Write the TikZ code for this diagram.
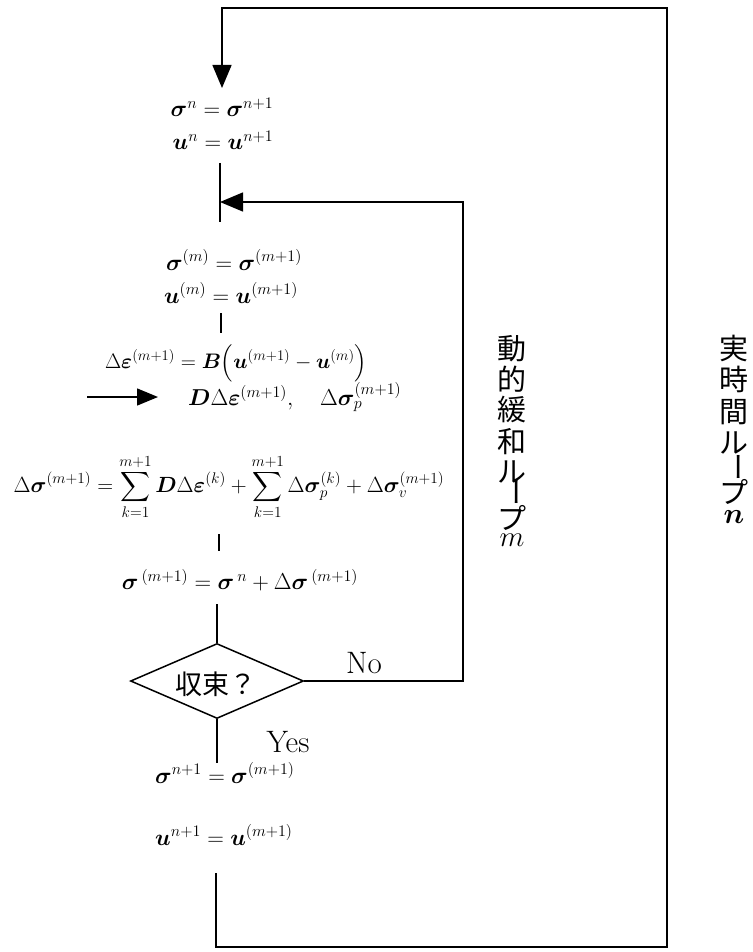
\RequirePackage{fix-cm}
\documentclass[tikz,border=0pt]{standalone}
\usepackage{fontspec}
\usepackage{amsmath,bm}
\newfontfamily\jp{Noto Sans CJK JP}
\usetikzlibrary{arrows.meta,shapes.geometric}
\newcommand{\supgap}{\hspace{3pt}}
\tikzset{
  eq/.style={inner sep=0pt, font=\fontsize{23}{27}\selectfont},
  lbl/.style={inner sep=0pt, font=\fontsize{31}{35}\selectfont},
  vchar/.style={inner sep=0pt, font=\jp\fontsize{29}{31}\selectfont},
  vmath/.style={inner sep=0pt, font=\fontsize{29}{31}\selectfont},
  flow/.style={line width=1.5pt},
  bigtip/.style={-{Triangle[length=23pt,width=19pt]}},
  dec/.style={diamond, draw, line width=1.5pt, minimum width=173pt, minimum height=75pt, aspect=2.3, inner sep=0pt}
}
\begin{document}
\begin{tikzpicture}[x=1pt,y=-1pt]
\useasboundingbox[fill=white] (0,0) rectangle (752,952);

% equations
\node[eq] (n1) at (222,107) {$\bm{\sigma}^{n}=\bm{\sigma}^{n+1}$};
\node[eq] (n2) at (223,140) {$\bm{u}^{n}=\bm{u}^{n+1}$};
\node[eq] (m1) at (234,260) {$\bm{\sigma}^{(m)}=\bm{\sigma}^{(m+1)}$};
\node[eq] (m2) at (231,293) {$\bm{u}^{(m)}=\bm{u}^{(m+1)}$};
\node[eq, font=\fontsize{21}{25}\selectfont] (de) at (236,363) {$\Delta\bm{\varepsilon}^{(m+1)}=\bm{B}\Bigl(\bm{u}^{(m+1)}-\bm{u}^{(m)}\Bigr)$};
\node[eq, anchor=west] (dd) at (188,397) {$\bm{D}\Delta\bm{\varepsilon}^{(m+1)},\quad \Delta\bm{\sigma}_{p}^{(m+1)}$};
\node[eq, font=\fontsize{22}{26}\selectfont] (ds) at (229,487) {$\displaystyle \Delta\bm{\sigma}^{(m+1)}=\sum_{k=1}^{m+1}\bm{D}\Delta\bm{\varepsilon}^{(k)}+\sum_{k=1}^{m+1}\Delta\bm{\sigma}_{p}^{(k)}+\Delta\bm{\sigma}_{v}^{(m+1)}$};
\node[eq] (sn) at (240,580) {$\bm{\sigma}^{\supgap(m+1)}=\bm{\sigma}^{\supgap n}+\Delta\bm{\sigma}^{\supgap(m+1)}$};
\node[dec] (q) at (217,681) {};
\node[inner sep=0pt, font=\jp\fontsize{27}{30}\selectfont] (qt) at (216,684) {収束？};
\node[lbl] (no) at (364,663) {No};
\node[lbl] (yes) at (288,742) {Yes};
\node[eq, anchor=west] (f1) at (155,773) {$\bm{\sigma}^{n+1}=\bm{\sigma}^{(m+1)}$};
\node[eq, anchor=west] (f2) at (155,835) {$\bm{u}^{n+1}=\bm{u}^{(m+1)}$};

% loop label m
\node[vchar] (lm1) at (512,349) {動};
\node[vchar] (lm2) at (512,379) {的};
\node[vchar] (lm3) at (512,410) {緩};
\node[vchar] (lm4) at (512,442) {和};
\node[vchar] (lm5) at (512,472) {ル};
\node[vchar] (lm6) at (512,492) {\rotatebox[origin=c]{-90}{ー}};
\node[vchar] (lm7) at (512,518) {プ};
\node[vmath] (lm8) at (512,540) {$m$};
% loop label n
\node[vchar] (ln1) at (734,349) {実};
\node[vchar] (ln2) at (734,379) {時};
\node[vchar] (ln3) at (734,412) {間};
\node[vchar] (ln4) at (734,443) {ル};
\node[vchar] (ln5) at (734,467) {\rotatebox[origin=c]{-90}{ー}};
\node[vchar] (ln6) at (734,492) {プ};
\node[vmath] (ln7) at (734,517) {$\bm{n}$};

% coordinates
\coordinate (t1) at (222,8);
\coordinate (t2) at (667,8);
\coordinate (t3) at (667,947);
\coordinate (t4) at (216,947);
\coordinate (t5) at (216,873);
\coordinate (tip1) at (222,88);
\coordinate (a1) at (220,163);
\coordinate (a2) at (220,222);
\coordinate (tip2) at (220,202);
\coordinate (r1) at (463,202);
\coordinate (r2) at (463,681);
\coordinate (k1) at (221,313);
\coordinate (k2) at (221,333);
\coordinate (ar1) at (87,397);
\coordinate (ar2) at (158,397);
\coordinate (k3) at (219,534);
\coordinate (k4) at (219,551);
\coordinate (k5) at (217,604);
\coordinate (k6) at (217,763);

% connectors
\draw[flow, bigtip] (t5) -- (t4) -- (t3) -- (t2) -- (t1) -- (tip1);
\draw[flow] (a1) -- (a2);
\draw[flow, bigtip] (q.east) -- (r2) -- (r1) -- (tip2);
\draw[flow] (k1) -- (k2);
\draw[flow, -{Triangle[length=21pt,width=17pt]}] (ar1) -- (ar2);
\draw[flow] (k3) -- (k4);
\draw[flow] (k5) -- (q.north);
\draw[flow] (q.south) -- (k6);
\end{tikzpicture}
\end{document}
